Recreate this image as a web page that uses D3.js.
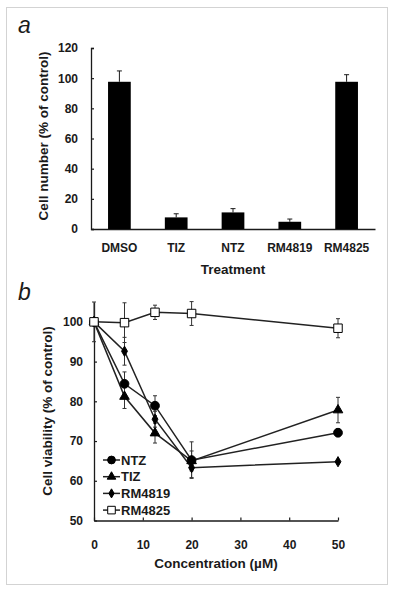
<!DOCTYPE html>
<html>
<head>
<meta charset="utf-8">
<script src="https://cdn.jsdelivr.net/npm/d3@7"></script>
<style>
  body { margin: 0; background: #fff; }
  svg text { font-family: "Liberation Sans", Arial, sans-serif; fill: #1a1a1a; }
</style>
</head>
<body>
<div class="plot"></div>
<script>
// panel a data
const treatments = ['DMSO', 'TIZ', 'NTZ', 'RM4819', 'RM4825'];
const cellNumber = [97.6, 7.7, 11.0, 4.8, 97.6];
const cellNumberErr = [7.2, 2.4, 2.5, 1.8, 4.7];
const ticksA = [0, 20, 40, 60, 80, 100, 120];

// panel b data
const concentrations = [0, 6.25, 12.5, 20, 50];
const ntz = [100, 84.4, 78.9, 65.2, 72.1];
const ntzErr = [0, 3.0, 2.5, 4.6, 1.0];
const tiz = [100, 81.2, 72.0, 65.0, 77.8];
const tizErr = [0, 3.0, 2.5, 2.5, 3.2];
const rm4819 = [100, 92.6, 75.5, 63.3, 64.8];
const rm4819Err = [0, 3.5, 2.0, 2.5, 0.5];
const rm4825 = [100, 99.8, 102.4, 102.1, 98.4];
const rm4825Err = [5.0, 5.0, 1.8, 3.0, 2.4];
const ticksBx = [0, 10, 20, 30, 40, 50];
const ticksBy = [50, 60, 70, 80, 90, 100];

const W = 394, H = 590;
const ink = '#1a1a1a';

const svg = d3.select('.plot')
    .append('svg')
    .attr('width', W)
    .attr('height', H);

// light frame round the figure
svg.append('rect')
    .attr('x', 6.5).attr('y', 7.5)
    .attr('width', 381).attr('height', 577)
    .attr('fill', 'none')
    .attr('stroke', '#d3d3d3')
    .attr('stroke-width', 1);

const styleAxis = g => {
    g.select('.domain').attr('stroke', ink).attr('stroke-width', 1.3);
    g.selectAll('.tick line').attr('stroke', ink).attr('stroke-width', 1.2);
    g.selectAll('.tick text')
        .attr('font-size', '12px')
        .attr('font-weight', 'bold')
        .attr('fill', ink);
};

// ---------- PANEL A ----------
const xA = d3.scaleBand()
    .domain(treatments)
    .range([91, 375])
    .paddingInner(0.6)
    .paddingOuter(0.3);

const yA = d3.scaleLinear()
    .domain([0, 120])
    .range([229, 48]);

svg.append('g')
    .attr('transform', 'translate(91, 0)')
    .call(d3.axisRight(yA).tickValues(ticksA).tickSize(3).tickPadding(-16))
    .call(styleAxis)
    .selectAll('.tick text').attr('text-anchor', 'end');

svg.append('g')
    .attr('transform', 'translate(0, 229)')
    .call(d3.axisBottom(xA).tickSize(0).tickPadding(14).tickSizeOuter(0))
    .call(styleAxis);

const barsA = treatments.map((t, i) => ({ t, v: cellNumber[i], e: cellNumberErr[i] }));

// error bars (upper only)
svg.selectAll('.errA')
    .data(barsA)
    .enter()
    .append('path')
    .attr('fill', 'none')
    .attr('stroke', ink)
    .attr('stroke-width', 1)
    .attr('d', d => {
        const cx = xA(d.t) + xA.bandwidth() / 2;
        const y0 = yA(d.v), y1 = yA(d.v + d.e);
        return `M${cx},${y0}V${y1}M${cx - 2.5},${y1}H${cx + 2.5}`;
    });

svg.selectAll('.barA')
    .data(barsA)
    .enter()
    .append('rect')
    .attr('x', d => xA(d.t))
    .attr('y', d => yA(d.v))
    .attr('width', xA.bandwidth())
    .attr('height', d => yA(0) - yA(d.v))
    .attr('fill', '#000');

svg.append('text')
    .text('Treatment')
    .attr('x', 233).attr('y', 274)
    .attr('text-anchor', 'middle')
    .attr('font-size', '13.5px')
    .attr('font-weight', 'bold');

svg.append('text')
    .text('Cell number (% of control)')
    .attr('transform', 'translate(48, 136) rotate(-90)')
    .attr('text-anchor', 'middle')
    .attr('font-size', '13.5px')
    .attr('font-weight', 'bold');

svg.append('text')
    .text('a')
    .attr('x', 18).attr('y', 33)
    .attr('font-size', '23px')
    .attr('font-style', 'italic');

// ---------- PANEL B ----------
const xB = d3.scaleLinear()
    .domain([0, 50])
    .range([94, 338]);

const yB = d3.scaleLinear()
    .domain([50, 105])
    .range([520.5, 302]);

svg.append('g')
    .attr('transform', 'translate(94, 0)')
    .call(d3.axisRight(yB).tickValues(ticksBy).tickSize(3).tickPadding(-14).tickSizeOuter(0))
    .call(styleAxis)
    .selectAll('.tick text').attr('text-anchor', 'end');

svg.append('g')
    .attr('transform', 'translate(0, 520.5)')
    .call(d3.axisTop(xB).tickValues(ticksBx).tickSize(3).tickSizeOuter(0).tickPadding(-23))
    .call(styleAxis)
    .selectAll('.tick text').attr('dy', '0.71em');

const series = [
    { name: 'NTZ', vals: ntz, errs: ntzErr, shape: d3.symbolCircle, size: 60, fill: '#000' },
    { name: 'TIZ', vals: tiz, errs: tizErr, shape: d3.symbolTriangle, size: 40, fill: '#000' },
    { name: 'RM4819', vals: rm4819, errs: rm4819Err, shape: d3.symbolDiamond, size: 30, fill: '#000' },
    { name: 'RM4825', vals: rm4825, errs: rm4825Err, shape: d3.symbolSquare, size: 72, fill: '#fff' }
];

const line = d3.line()
    .x(d => xB(d.c))
    .y(d => yB(d.v));

// error bars first, lines, then markers
series.forEach(s => {
    const pts = concentrations.map((c, i) => ({ c, v: s.vals[i], e: s.errs[i] }));
    svg.append('g')
        .selectAll('path')
        .data(pts.filter(p => p.e > 0))
        .enter()
        .append('path')
        .attr('fill', 'none')
        .attr('stroke', '#333')
        .attr('stroke-width', 1)
        .attr('d', p => {
            const cx = xB(p.c), yt = yB(p.v + p.e), yb = yB(p.v - p.e);
            return `M${cx},${yt}V${yb}M${cx - 2},${yt}H${cx + 2}M${cx - 2},${yb}H${cx + 2}`;
        });
});

series.forEach(s => {
    const pts = concentrations.map((c, i) => ({ c, v: s.vals[i] }));
    svg.append('path')
        .datum(pts)
        .attr('fill', 'none')
        .attr('stroke', '#222')
        .attr('stroke-width', 1.5)
        .attr('d', line);
});

series.forEach(s => {
    const pts = concentrations.map((c, i) => ({ c, v: s.vals[i] }));
    svg.append('g')
        .selectAll('path')
        .data(pts)
        .enter()
        .append('path')
        .attr('transform', p => `translate(${xB(p.c)}, ${yB(p.v)})`)
        .attr('d', d3.symbol().type(s.shape).size(s.size))
        .attr('fill', s.fill)
        .attr('stroke', '#000')
        .attr('stroke-width', 1);
});

// legend
const legend = svg.append('g')
    .attr('transform', 'translate(103, 460)');

series.forEach((s, i) => {
    const row = legend.append('g')
        .attr('transform', `translate(0, ${i * 16.7})`);
    row.append('line')
        .attr('x1', 0).attr('x2', 17)
        .attr('stroke', '#222')
        .attr('stroke-width', 1.5);
    row.append('path')
        .attr('transform', 'translate(8.5, 0)')
        .attr('d', d3.symbol().type(s.shape).size(s.size * 0.8))
        .attr('fill', s.fill)
        .attr('stroke', '#000');
    row.append('text')
        .text(s.name)
        .attr('x', 18)
        .attr('dy', '0.36em')
        .attr('font-size', '13px')
        .attr('font-weight', 'bold');
});

svg.append('text')
    .text('Concentration (µM)')
    .attr('x', 216).attr('y', 568)
    .attr('text-anchor', 'middle')
    .attr('font-size', '13.5px')
    .attr('font-weight', 'bold');

svg.append('text')
    .text('Cell viability (% of control)')
    .attr('transform', 'translate(52, 411) rotate(-90)')
    .attr('text-anchor', 'middle')
    .attr('font-size', '13.5px')
    .attr('font-weight', 'bold');

svg.append('text')
    .text('b')
    .attr('x', 18).attr('y', 300)
    .attr('font-size', '23px')
    .attr('font-style', 'italic');
</script>
</body>
</html>
